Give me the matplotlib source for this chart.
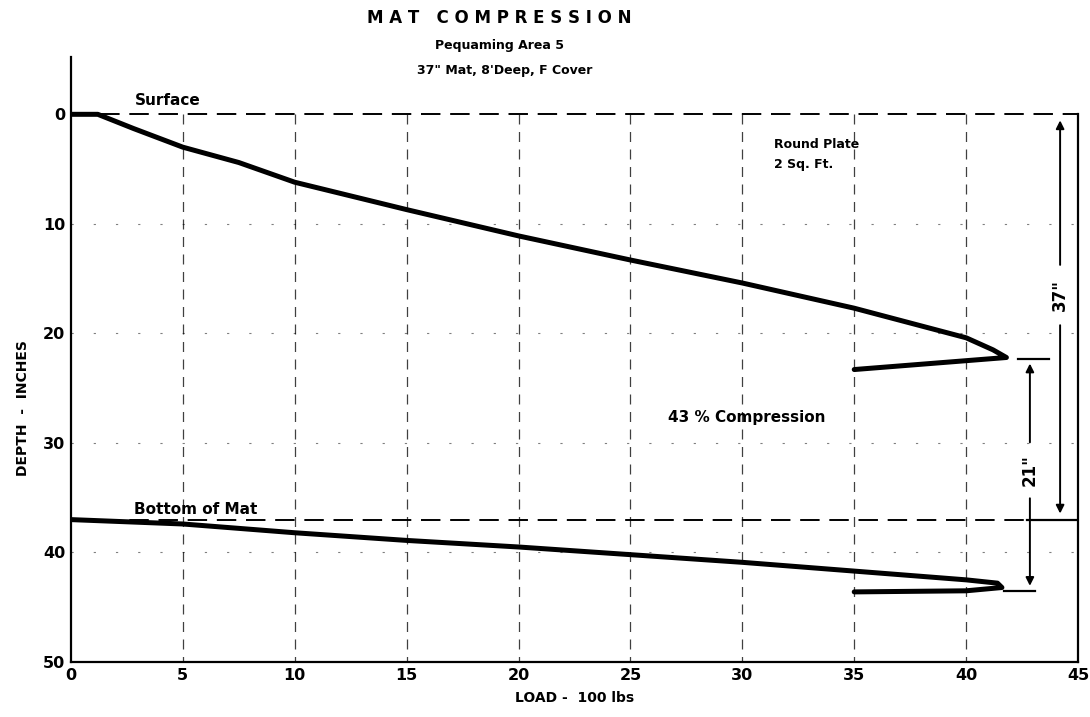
import matplotlib
matplotlib.use("Agg")
import matplotlib.pyplot as plt

# Load (hundreds of lbs) vs depth (inches) for the mat surface and mat bottom
surface_load = [0, 1.2, 2.8, 5, 7.5, 10, 15, 20, 25, 30, 35, 40, 41.2, 41.8, 35]
surface_depth = [0, 0, 1.3, 3.0, 4.4, 6.2, 8.7, 11.1, 13.3, 15.4, 17.7, 20.4, 21.5, 22.2, 23.3]

bottom_load = [0, 5, 10, 15, 20, 25, 30, 35, 40, 41.4, 41.6, 40, 35]
bottom_depth = [37.0, 37.4, 38.2, 38.9, 39.5, 40.2, 40.9, 41.7, 42.5, 42.8, 43.2, 43.5, 43.6]

x_ticks = [0, 5, 10, 15, 20, 25, 30, 35, 40, 45]
y_ticks = [0, 10, 20, 30, 40, 50]
mat_top = 0
mat_bottom = 37
compressed_top = 22.3
compressed_bottom = 43.5

FONT = "DejaVu Sans"
plt.rcParams["font.family"] = FONT

fig = plt.figure(figsize=(10.9, 7.17), dpi=100)
ax = fig.add_axes([0.0651, 0.0767, 0.9239, 0.8433])
ax.set_xlim(0, 45)
ax.set_ylim(50, -5.2)

for side in ("top", "right"):
    ax.spines[side].set_visible(False)
ax.spines["left"].set_linewidth(1.6)
ax.spines["bottom"].set_linewidth(1.6)

ax.set_xticks(x_ticks)
ax.set_yticks(y_ticks)
ax.tick_params(length=0, labelsize=11.5, pad=4)
for lab in ax.get_xticklabels() + ax.get_yticklabels():
    lab.set_fontweight("bold")

# right border spans only the depth range
ax.plot([45, 45], [0, 50], color="black", lw=1.6, clip_on=False)

# vertical grid
for x in x_ticks[1:-1]:
    ax.plot([x, x], [0, 50], color="black", lw=0.9, ls=(0, (8, 6)), alpha=0.75)
# faint horizontal grid
for y in [10, 20, 30, 40]:
    ax.plot([0, 45], [y, y], color="black", lw=0.8, ls=(0, (2, 18)), alpha=0.5)

# surface and bottom of mat reference lines
ax.plot([0, 45], [mat_top, mat_top], color="black", lw=1.4, ls=(0, (10, 5)))
ax.plot([0, 45], [mat_bottom, mat_bottom], color="black", lw=1.4, ls=(0, (10, 5)))

# load curves
ax.plot(surface_load, surface_depth, color="black", lw=3.6,
        solid_joinstyle="round", solid_capstyle="round")
ax.plot(bottom_load, bottom_depth, color="black", lw=3.6,
        solid_joinstyle="round", solid_capstyle="round")

bold = dict(fontweight="bold", color="black")
ax.text(2.85, -1.3, "Surface", fontsize=11, va="center", ha="left", **bold)
ax.text(2.8, 36.1, "Bottom of Mat", fontsize=11, va="center", ha="left", **bold)
ax.text(31.4, 2.8, "Round Plate", fontsize=9, va="center", ha="left", **bold)
ax.text(31.4, 4.6, "2 Sq. Ft.", fontsize=9, va="center", ha="left", **bold)
ax.text(26.7, 27.7, "43 % Compression", fontsize=11, va="center", ha="left", **bold)

# dimension: total mat thickness
x37 = 44.2
ax.text(x37, 16.5, '37"', fontsize=12, rotation=90, ha="center", va="center", **bold)
arrow = dict(arrowstyle="-|>", color="black", lw=1.4, mutation_scale=12)
ax.annotate("", xy=(x37, mat_top + 0.3), xytext=(x37, 14.0), arrowprops=arrow)
ax.annotate("", xy=(x37, mat_bottom - 0.3), xytext=(x37, 19.0), arrowprops=arrow)
ax.plot([42.7, 45], [mat_bottom, mat_bottom], color="black", lw=1.6)

# dimension: compressed thickness
x21 = 42.85
ax.plot([42.3, 43.7], [compressed_top, compressed_top], color="black", lw=1.6)
ax.plot([41.7, 43.1], [compressed_bottom, compressed_bottom], color="black", lw=1.6)
ax.text(x21, 32.5, '21"', fontsize=12, rotation=90, ha="center", va="center", **bold)
ax.annotate("", xy=(x21, compressed_top + 0.2), xytext=(x21, 30.2), arrowprops=arrow)
ax.annotate("", xy=(x21, compressed_bottom - 0.2), xytext=(x21, 34.8), arrowprops=arrow)

ax.set_xlabel("LOAD -  100 lbs", fontsize=10, fontweight="bold", labelpad=6)
ax.set_ylabel("DEPTH  -  INCHES", fontsize=10, fontweight="bold")
ax.yaxis.set_label_coords(-0.041, 0.42)

fig.text(0.458, 0.975, "M A T   C O M P R E S S I O N", fontsize=12,
         ha="center", va="center", **bold)
fig.text(0.458, 0.937, "Pequaming Area 5", fontsize=9, ha="center", va="center", **bold)
fig.text(0.463, 0.902, "37\" Mat, 8'Deep, F Cover", fontsize=9,
         ha="center", va="center", **bold)

fig.savefig("out.png", dpi=100)
